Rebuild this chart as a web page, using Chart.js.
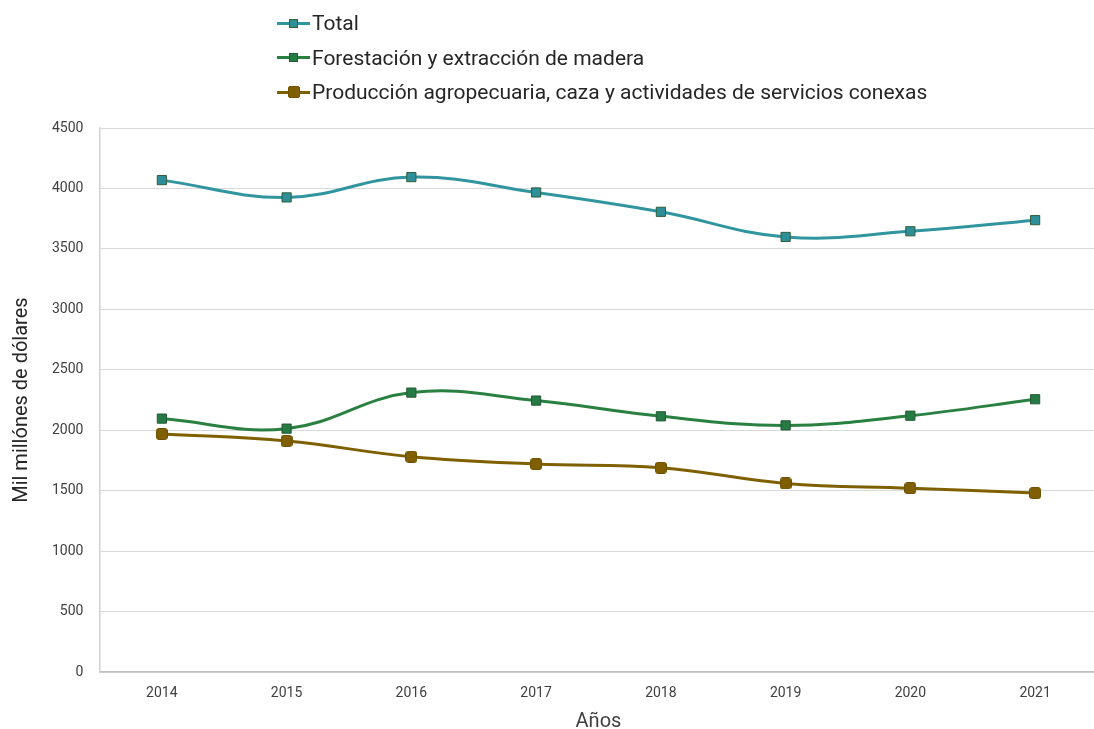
<!DOCTYPE html>
<html lang="es">
<head>
<meta charset="utf-8">
<title>Producción agropecuaria y forestal</title>
<script src="https://cdn.jsdelivr.net/npm/chart.js@4/dist/chart.umd.min.js"></script>
<style>
    html, body {
        margin: 0;
        padding: 0;
        background: #ffffff;
        overflow: hidden;
    }
    /* the canvas is a bit wider than the window, like the original crop */
    #wrap {
        position: relative;
        width: 1105px;
        height: 729px;
    }
    #legend {
        position: absolute;
        left: 277px;
        top: 6px;
        font-family: Roboto, "Noto Sans", sans-serif;
        font-size: 21px;
        color: #262626;
    }
    .legend-row {
        display: flex;
        align-items: center;
        height: 34.5px;
    }
    .legend-icon {
        position: relative;
        width: 33px;
        height: 20px;
        margin-right: 2px;
    }
    .legend-icon .ln {
        position: absolute;
        left: 0;
        right: 0;
        top: 8.5px;
        height: 3px;
    }
    .legend-icon .mk {
        position: absolute;
        box-sizing: border-box;
    }
</style>
</head>
<body>
<div id="wrap">
    <div id="legend"></div>
    <canvas id="chart" width="1105" height="729"></canvas>
</div>
<script>
// ============================================
// DATA - values
// ============================================
const years = ['2014', '2015', '2016', '2017', '2018', '2019', '2020', '2021'];

// total (mil millones de dólares)
const total = [4069, 3926, 4094, 3967, 3807, 3599, 3646, 3738];

// forestación y extracción de madera
const forestacion = [2097, 2014, 2312, 2246, 2116, 2041, 2121, 2257];

// producción agropecuaria, caza y servicios
const agropecuaria = [1970, 1912, 1782, 1721, 1691, 1561, 1522, 1481];

// y axis ticks
const yTicks = [0, 500, 1000, 1500, 2000, 2500, 3000, 3500, 4000, 4500];

const seriesNames = [
    'Total',
    'Forestación y extracción de madera',
    'Producción agropecuaria, caza y actividades de servicios conexas'
];

// ============================================
// CHART
// ============================================
const FONT = 'Roboto, "Noto Sans", sans-serif';

// small square with slightly rounded corners, chart.js "rectRounded" is too round
function roundedSquare(side, corner, fill, border) {
    const c = document.createElement('canvas');
    c.width = side;
    c.height = side;
    const g = c.getContext('2d');
    g.beginPath();
    g.roundRect(0.5, 0.5, side - 1, side - 1, corner);
    g.fillStyle = fill;
    g.fill();
    g.strokeStyle = border;
    g.lineWidth = 1;
    g.stroke();
    return c;
}

// little helper so the three datasets look alike
// (legendSide / legendCorner are only used by the html legend)
function makeSeries(label, values, color, fill, border, style, size, legendSide, legendCorner) {
    return {
        label: label,
        data: values,
        borderColor: color,
        borderWidth: 3,
        tension: 0.4,
        pointStyle: style,
        pointRadius: size,
        pointHoverRadius: size,
        pointBackgroundColor: fill,
        pointBorderColor: border,
        pointBorderWidth: 1,
        legendSide: legendSide,
        legendCorner: legendCorner,
        fill: false
    };
}

const datasets = [
    makeSeries(seriesNames[0], total, '#3195a0', '#2e8f98', '#2f5f3c', 'rect', 6.5, 9, 0),
    makeSeries(seriesNames[1], forestacion, '#2a8041', '#267a44', '#245a34', 'rect', 6.5, 9, 0),
    makeSeries(seriesNames[2], agropecuaria, '#7f6000', '#7f5f00', '#6e5200',
        roundedSquare(12, 2.5, '#7f5f00', '#6e5200'), 6, 12, 2)
];

const ctx = document.getElementById('chart').getContext('2d');

const chart = new Chart(ctx, {
    type: 'line',
    data: {
        labels: years,
        datasets: datasets
    },
    options: {
        responsive: false,
        animation: false,
        layout: {
            padding: { top: 128, right: 0, bottom: 0, left: 10 }
        },
        plugins: {
            legend: { display: false },   // drawn as html above
            tooltip: { enabled: false }
        },
        scales: {
            x: {
                offset: true,
                grid: {
                    display: false,
                    drawTicks: false
                },
                border: { color: '#bfbfbf', width: 1.5 },
                ticks: {
                    color: '#404040',
                    font: { family: FONT, size: 14 },
                    padding: 13
                },
                title: {
                    display: true,
                    text: 'Años',
                    color: '#404040',
                    font: { family: FONT, size: 20 },
                    padding: { top: -5, bottom: -5 }
                }
            },
            y: {
                min: 0,
                max: 4500,
                afterBuildTicks: (axis) => {
                    axis.ticks = yTicks.map(v => ({ value: v }));
                },
                grid: {
                    color: '#d9d9d9',
                    lineWidth: 1,
                    drawTicks: false
                },
                border: { color: '#d0d0d0', width: 1.5 },
                ticks: {
                    color: '#404040',
                    font: { family: FONT, size: 14 },
                    padding: 16,
                    // plain numbers, no thousands separator
                    callback: (value) => String(value)
                },
                title: {
                    display: true,
                    text: 'Mil millónes de dólares',
                    color: '#262626',
                    font: { family: FONT, size: 20 },
                    padding: { top: 0, bottom: 2 }
                }
            }
        }
    }
});

// ============================================
// LEGEND - one series per row, like the original
// ============================================
const legendBox = document.getElementById('legend');
legendBox.innerHTML = datasets.map(ds => {
    const s = ds.legendSide;
    return `
        <div class="legend-row">
            <span class="legend-icon">
                <span class="ln" style="background:${ds.borderColor}"></span>
                <span class="mk" style="width:${s}px;height:${s}px;left:${(33 - s) / 2}px;top:${10 - s / 2}px;
                    background:${ds.pointBackgroundColor};border:1px solid ${ds.pointBorderColor};border-radius:${ds.legendCorner}px"></span>
            </span>
            <span>${ds.label}</span>
        </div>`;
}).join('');
</script>
</body>
</html>
